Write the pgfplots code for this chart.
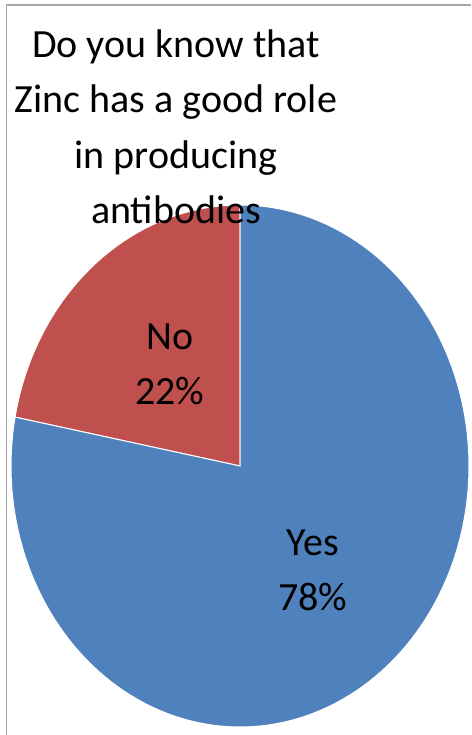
\documentclass[border=0pt]{standalone}
\usepackage{pgfplots}
\pgfplotsset{compat=1.18}
\usepackage{fontspec}
\setmainfont{Carlito}

\definecolor{yesblue}{HTML}{4F81BD}
\definecolor{nored}{HTML}{C0504D}
\definecolor{framegray}{HTML}{A6A6A6}

% answer shares in percent
\def\shareNo{22}
\def\shareYes{78}
% pie centre and semi-axes (axis units)
\def\cx{240}
\def\cy{269}
\def\rx{229}
\def\ry{261}
\pgfmathsetmacro\angNo{90+3.6*\shareNo}
\pgfmathsetmacro\angYes{\angNo+3.6*\shareYes}

\begin{document}
\begin{tikzpicture}
\begin{axis}[
  scale only axis, width=471pt, height=735pt,
  xmin=0, xmax=471, ymin=0, ymax=735,
  hide axis, clip=false,
]
% chart frame
\draw[framegray, line width=1.5pt] (axis cs:6.5,0) -- (axis cs:6.5,730) -- (axis cs:471,730);

% slices
\addplot[fill=nored, draw=white, line width=1pt, domain=90:\angNo, samples=80]
  ({\cx+\rx*cos(x)}, {\cy+\ry*sin(x)}) -- (axis cs:\cx,\cy) -- cycle;
\addplot[fill=yesblue, draw=white, line width=1pt, domain=\angNo:\angYes, samples=200]
  ({\cx+\rx*cos(x)}, {\cy+\ry*sin(x)}) -- (axis cs:\cx,\cy) -- cycle;

% slice labels
\node[align=center, font=\fontsize{40}{55}\selectfont] at (axis cs:170,371) {No\\\shareNo\%};
\node[align=center, font=\fontsize{40}{55}\selectfont] at (axis cs:313,165) {Yes\\\shareYes\%};

% title
\node[align=center, font=\fontsize{40}{55.5}\selectfont] at (axis cs:176,608)
  {Do you know that\\Zinc has a good role\\in producing\\antibodies};
\end{axis}
\pgfresetboundingbox
\useasboundingbox (0,0) rectangle (471pt,735pt);
\end{tikzpicture}
\end{document}
